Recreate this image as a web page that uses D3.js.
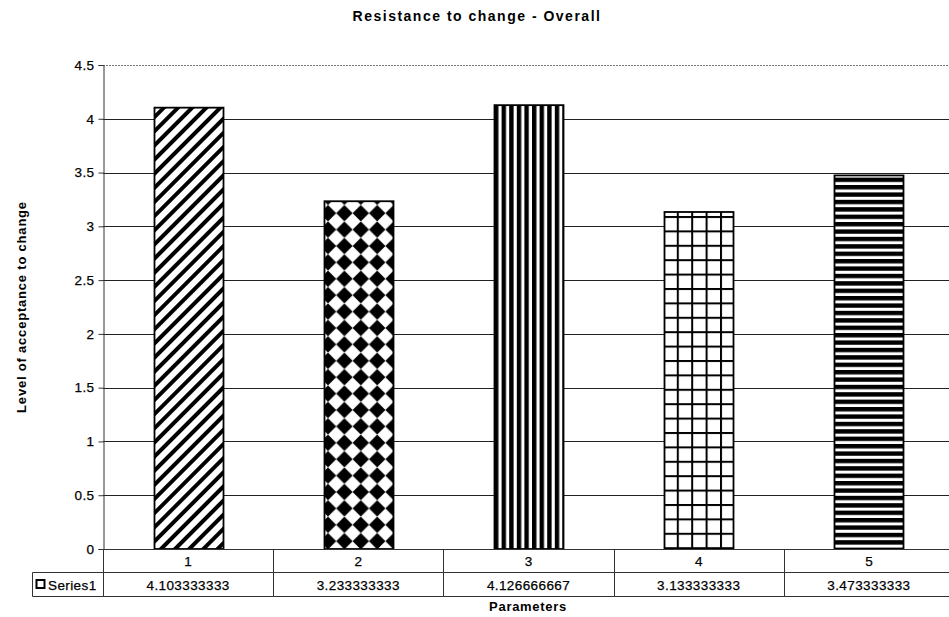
<!DOCTYPE html>
<html>
<head>
<meta charset="utf-8">
<script src="https://cdn.jsdelivr.net/npm/d3@7/dist/d3.min.js"></script>
<style>
  html, body { margin: 0; padding: 0; background: #fff; }
  svg { display: block; font-family: "Liberation Sans", Arial, sans-serif; }
  .lbl { stroke: #000; stroke-width: 0.25px; }
</style>
</head>
<body>
<svg id="chart" width="949" height="617"></svg>
<script>
// Chart data
const categories = ["1", "2", "3", "4", "5"];
const values = [4.103333333, 3.233333333, 4.126666667, 3.133333333, 3.473333333];
const valueLabels = ["4.103333333", "3.233333333", "4.126666667", "3.133333333", "3.473333333"];
const yTicks = [0, 0.5, 1, 1.5, 2, 2.5, 3, 3.5, 4, 4.5];
const seriesName = "Series1";
const patternIds = ["diag", "diamond", "vstripe", "grid", "hstripe"];

const svg = d3.select("#chart");
const margin = { left: 103, right: 954, top: 65, bottom: 549 };

const x = d3.scaleBand().domain(categories).range([margin.left, margin.right]).paddingInner(0).paddingOuter(0);
const y = d3.scaleLinear().domain([0, 4.5]).range([margin.bottom, margin.top]);

const labelSize = 13.5;
const labelSpacing = 0.4;

// Fill patterns for the bars
const defs = svg.append("defs");

const diag = defs.append("pattern").attr("id", "diag").attr("patternUnits", "userSpaceOnUse")
  .attr("width", 10).attr("height", 10).attr("patternTransform", "rotate(45)");
diag.append("rect").attr("width", 10).attr("height", 10).attr("fill", "#fff");
diag.append("rect").attr("x", 0).attr("width", 4).attr("height", 10).attr("fill", "#000");

const diamond = defs.append("pattern").attr("id", "diamond").attr("patternUnits", "userSpaceOnUse")
  .attr("width", 16.4).attr("height", 16.4).attr("x", 0).attr("y", 0);
diamond.append("rect").attr("width", 16.4).attr("height", 16.4).attr("fill", "#000");
diamond.append("path").attr("d", "M8.2,0 L16.4,8.2 L8.2,16.4 L0,8.2 Z").attr("fill", "#fff");

const vstripe = defs.append("pattern").attr("id", "vstripe").attr("patternUnits", "userSpaceOnUse")
  .attr("width", 7.6).attr("height", 10);
vstripe.append("rect").attr("width", 7.6).attr("height", 10).attr("fill", "#fff");
vstripe.append("rect").attr("x", 0).attr("width", 4.4).attr("height", 10).attr("fill", "#000");

const grid = defs.append("pattern").attr("id", "grid").attr("patternUnits", "userSpaceOnUse")
  .attr("width", 14.4).attr("height", 14.4);
grid.append("rect").attr("width", 14.4).attr("height", 14.4).attr("fill", "#fff");
grid.append("rect").attr("x", 0).attr("width", 2).attr("height", 14.4).attr("fill", "#000");
grid.append("rect").attr("y", 0).attr("width", 14.4).attr("height", 2).attr("fill", "#000");

const hstripe = defs.append("pattern").attr("id", "hstripe").attr("patternUnits", "userSpaceOnUse")
  .attr("width", 10).attr("height", 7.4);
hstripe.append("rect").attr("width", 10).attr("height", 7.4).attr("fill", "#fff");
hstripe.append("rect").attr("y", 0).attr("width", 10).attr("height", 4.4).attr("fill", "#000");

// Title
svg.append("text").attr("x", 477).attr("y", 21).attr("text-anchor", "middle")
  .attr("font-size", 14).attr("font-weight", "bold").attr("letter-spacing", 1.5)
  .text("Resistance to change - Overall");

// Gridlines
svg.append("g").selectAll("line").data(yTicks.filter(d => d > 0)).join("line")
  .attr("x1", margin.left).attr("x2", margin.right)
  .attr("y1", d => Math.round(y(d)) + 0.5).attr("y2", d => Math.round(y(d)) + 0.5)
  .attr("stroke", d => d === 4.5 ? "#777" : "#222")
  .attr("stroke-dasharray", d => d === 4.5 ? "2,1" : null)
  .attr("stroke-width", 1);

// Y axis
const yAxis = d3.axisLeft(y).tickValues(yTicks).tickSize(5).tickPadding(4)
  .tickFormat(d => d3.format("")(d));
const yg = svg.append("g").attr("transform", `translate(${margin.left + 0.5},0)`).call(yAxis);
yg.select(".domain").attr("stroke", "#333");
yg.selectAll(".tick line").attr("stroke", "#333");
yg.selectAll(".tick text").attr("class", "lbl").attr("font-size", labelSize).attr("fill", "#000")
  .attr("letter-spacing", labelSpacing)
  .attr("font-family", "'Liberation Sans', Arial, sans-serif");

// Y axis title
svg.append("text").attr("transform", `translate(26,${(margin.top + margin.bottom) / 2}) rotate(-90)`)
  .attr("text-anchor", "middle").attr("font-size", 13).attr("font-weight", "bold")
  .attr("letter-spacing", 0.8)
  .text("Level of acceptance to change");

// Bars
const barW = 69;
svg.append("g").selectAll("rect").data(values).join("rect")
  .attr("x", (d, i) => Math.round(x(categories[i]) + x.bandwidth() / 2 - barW / 2) + 0.5)
  .attr("y", d => y(d))
  .attr("width", barW)
  .attr("height", d => y(0) - y(d))
  .attr("fill", (d, i) => `url(#${patternIds[i]})`)
  .attr("stroke", "#000").attr("stroke-width", 1.8);

// Baseline
svg.append("line").attr("x1", margin.left).attr("x2", margin.right)
  .attr("y1", Math.round(y(0)) + 0.5).attr("y2", Math.round(y(0)) + 0.5)
  .attr("stroke", "#333");

// Data table beneath the plot
const rowTop = Math.round(y(0)) + 0.5;
const rowMid = rowTop + 23;
const rowBot = rowMid + 24;
const legendLeft = 32.5;
const table = svg.append("g").attr("stroke", "#333").attr("stroke-width", 1);
table.append("line").attr("x1", legendLeft).attr("x2", margin.right).attr("y1", rowMid).attr("y2", rowMid);
table.append("line").attr("x1", legendLeft).attr("x2", margin.right).attr("y1", rowBot).attr("y2", rowBot);
table.append("line").attr("x1", legendLeft).attr("x2", legendLeft).attr("y1", rowMid).attr("y2", rowBot);
table.selectAll(".div").data(d3.range(categories.length + 1)).join("line")
  .attr("x1", i => Math.round(margin.left + i * x.bandwidth()) + 0.5)
  .attr("x2", i => Math.round(margin.left + i * x.bandwidth()) + 0.5)
  .attr("y1", rowTop).attr("y2", rowBot);

svg.append("g").selectAll("text").data(categories).join("text")
  .attr("class", "lbl")
  .attr("x", d => x(d) + x.bandwidth() / 2).attr("y", rowTop + 16.5)
  .attr("text-anchor", "middle").attr("font-size", labelSize).text(d => d);

svg.append("g").selectAll("text").data(valueLabels).join("text")
  .attr("class", "lbl")
  .attr("x", (d, i) => x(categories[i]) + x.bandwidth() / 2).attr("y", rowMid + 17)
  .attr("text-anchor", "middle").attr("font-size", labelSize).attr("letter-spacing", labelSpacing)
  .text(d => d);

// Legend key
svg.append("rect").attr("x", 36.5).attr("y", rowMid + 7.5).attr("width", 8).attr("height", 8)
  .attr("fill", "#fff").attr("stroke", "#000").attr("stroke-width", 2);
svg.append("text").attr("class", "lbl").attr("x", 48).attr("y", rowMid + 17).attr("font-size", labelSize)
  .attr("letter-spacing", labelSpacing).text(seriesName);

// X axis title
svg.append("text").attr("x", 528).attr("y", rowBot + 14).attr("text-anchor", "middle")
  .attr("font-size", 13).attr("font-weight", "bold").attr("letter-spacing", 0.7).text("Parameters");
</script>
</body>
</html>
